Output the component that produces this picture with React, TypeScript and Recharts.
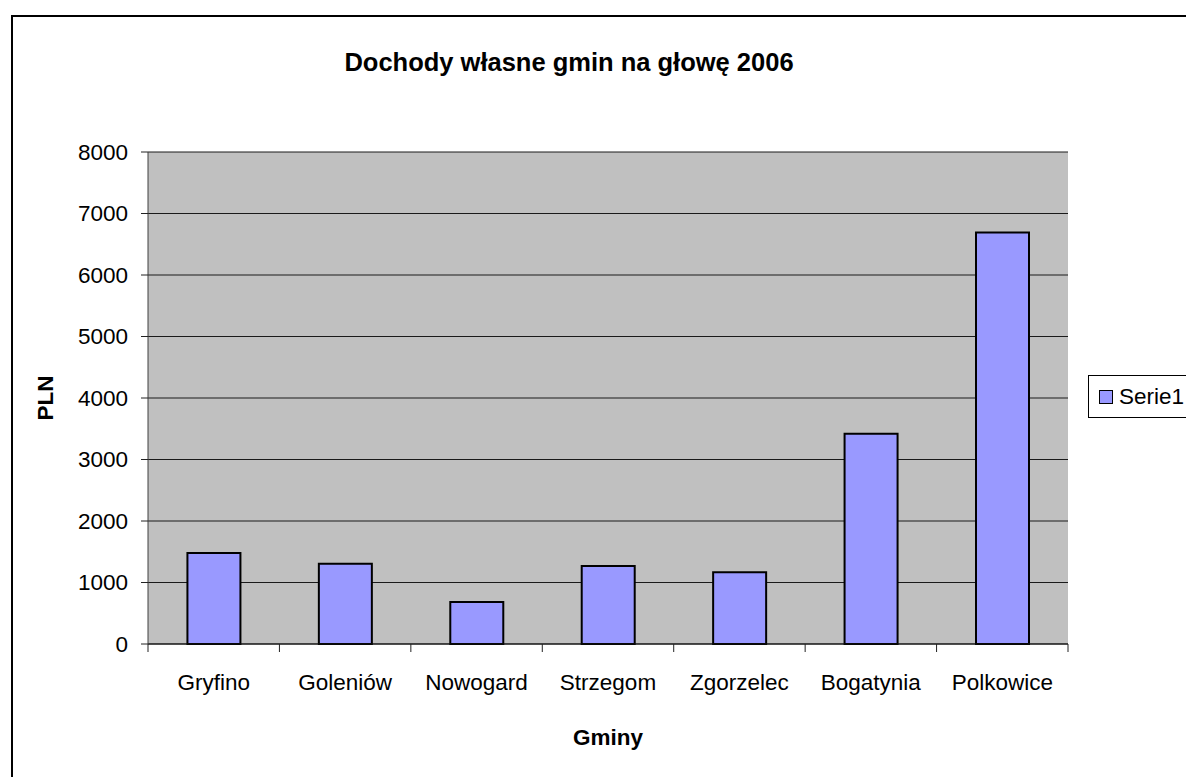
import { BarChart, Bar, XAxis, YAxis, CartesianGrid } from 'recharts';

const gminy = ['Gryfino', 'Goleniów', 'Nowogard', 'Strzegom', 'Zgorzelec', 'Bogatynia', 'Polkowice'];
const serie1 = [1478, 1303, 684, 1270, 1168, 3420, 6690];
const yTicks = [0, 1000, 2000, 3000, 4000, 5000, 6000, 7000, 8000];

const FONT = '"Liberation Sans", Arial, sans-serif';

const data = gminy.map((name, i) => ({ name, serie1: serie1[i] }));

// category label + Excel-style tick marks on the band edges
const CatTick = ({ x, y, payload, index, visibleTicksCount }: any) => {
  const half = payload.offset || 0;
  return (
    <g>
      <line x1={x - half} x2={x - half} y1={y} y2={y + 8} stroke="#222" />
      {index === visibleTicksCount - 1 && (
        <line x1={x + half} x2={x + half} y1={y} y2={y + 8} stroke="#222" />
      )}
      <text x={x} y={y + 30} dy="0.71em" textAnchor="middle" fontSize={22.5} fill="#000">
        {payload.value}
      </text>
    </g>
  );
};

// legend box like the old Excel one
const LegendBox = () => (
  <div
    style={{
      position: 'absolute',
      left: 1088,
      top: 375,
      display: 'flex',
      alignItems: 'center',
      background: '#fff',
      border: '1px solid #000',
      height: 43,
      width: 120,
      paddingLeft: 10,
      boxSizing: 'border-box',
      fontFamily: FONT,
      fontSize: 22.5,
      color: '#000',
    }}
  >
    <span
      style={{
        display: 'inline-block',
        width: 12,
        height: 12,
        background: '#9999ff',
        border: '1.5px solid #000',
        marginRight: 6,
      }}
    />
    Serie1
  </div>
);

export default function App() {
  return (
    <div style={{ position: 'absolute', left: 0, top: 0, width: 1186, height: 777, overflow: 'hidden', background: '#fff' }}>
      {/* chart area border, runs past the right and bottom edges */}
      <div
        style={{
          position: 'absolute',
          left: 11,
          top: 15,
          width: 1300,
          height: 900,
          border: '2px solid #000',
        }}
      />
      <div
        style={{
          position: 'absolute',
          left: 0,
          width: 1138,
          top: 48,
          textAlign: 'center',
          fontFamily: FONT,
          fontWeight: 'bold',
          fontSize: 25.5,
          color: '#000',
        }}
      >
        Dochody własne gmin na głowę 2006
      </div>
      <div style={{ position: 'absolute', left: 0, top: 0 }}>
        <BarChart
          width={1186}
          height={777}
          data={data}
          margin={{ top: 152, right: 118, left: 0, bottom: 0 }}
          barCategoryGap="30%"
          style={{ fontFamily: FONT }}
        >
          <CartesianGrid
            xAxisId="cat"
            yAxisId="left"
            fill="#c0c0c0"
            fillOpacity={1}
            vertical={false}
            stroke="#1a1a1a"
            strokeWidth={1}
          />
          <XAxis
            xAxisId="cat"
            dataKey="name"
            tickLine={false}
            axisLine={{ stroke: '#111' }}
            tickSize={0}
            tickMargin={0}
            interval={0}
            tick={<CatTick />}
            height={133}
            label={{
              content: ({ viewBox }: any) => (
                <text
                  x={viewBox.x + viewBox.width / 2}
                  y={viewBox.y + 101}
                  textAnchor="middle"
                  fontWeight="bold"
                  fontSize={22.5}
                  fill="#000"
                >
                  Gminy
                </text>
              ),
            }}
          />
          <XAxis
            xAxisId="top"
            orientation="top"
            dataKey="name"
            tick={false}
            tickLine={false}
            axisLine={{ stroke: '#808080' }}
            height={0}
          />
          <YAxis
            yAxisId="left"
            domain={[0, 8000]}
            ticks={yTicks}
            width={148}
            tickSize={7}
            tickMargin={13}
            tickLine={{ stroke: '#222' }}
            axisLine={{ stroke: '#404040' }}
            tick={{ fill: '#000', fontSize: 22.5 }}
            label={{
              content: ({ viewBox }: any) => {
                const cy = viewBox.y + viewBox.height / 2;
                return (
                  <text
                    x={45}
                    y={cy}
                    transform={`rotate(-90 45 ${cy})`}
                    textAnchor="middle"
                    dominantBaseline="central"
                    fontWeight="bold"
                    fontSize={22.5}
                    fill="#000"
                  >
                    PLN
                  </text>
                );
              },
            }}
          />
          <YAxis
            yAxisId="right"
            orientation="right"
            domain={[0, 8000]}
            tick={false}
            tickLine={false}
            axisLine={{ stroke: '#808080' }}
            width={0}
          />
          <Bar
            dataKey="serie1"
            name="Serie1"
            xAxisId="cat"
            yAxisId="left"
            fill="#9999ff"
            stroke="#000"
            strokeWidth={2}
            isAnimationActive={false}
          />
        </BarChart>
      </div>
      <LegendBox />
    </div>
  );
}
